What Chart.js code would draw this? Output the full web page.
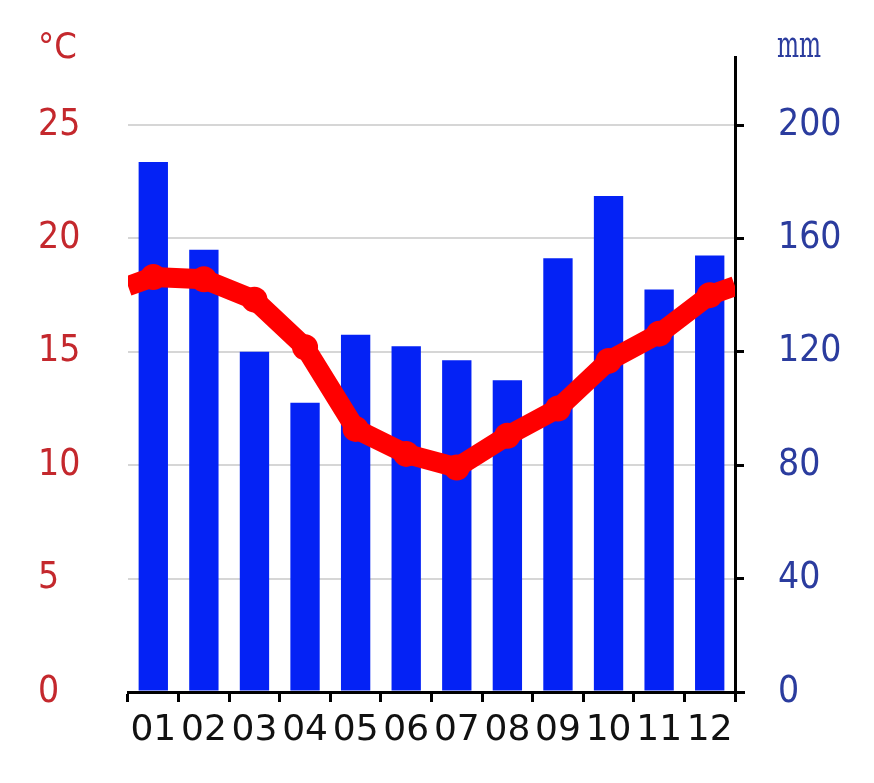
<!DOCTYPE html>
<html>
<head>
<meta charset="utf-8">
<script src="https://cdn.jsdelivr.net/npm/chart.js@4/dist/chart.umd.min.js"></script>
<style>
  html, body { margin: 0; padding: 0; background: #fff; }
  canvas { display: block; }
</style>
</head>
<body>
<canvas id="climate" width="874" height="783"></canvas>
<script>
// Monthly climate data
const months = ["01", "02", "03", "04", "05", "06", "07", "08", "09", "10", "11", "12"];
const precipitation = [187, 156, 120, 102, 126, 122, 117, 110, 153, 175, 142, 154];
const temperature = [18.3, 18.2, 17.3, 15.2, 11.6, 10.5, 9.9, 11.3, 12.5, 14.6, 15.8, 17.5];
const tempTicks = [0, 5, 10, 15, 20, 25];
const rainTicks = [0, 40, 80, 120, 160, 200];

const RED_TEXT = "#c4282d";
const BLUE_TEXT = "#2b3c9e";

// Draws the unit captions above each axis, plus the small stub of the base line
const unitLabels = {
  id: "unitLabels",
  afterDraw(chart) {
    const ctx = chart.ctx;
    const area = chart.chartArea;
    ctx.save();
    ctx.strokeStyle = "#000";
    ctx.lineWidth = 3;
    ctx.beginPath();
    ctx.moveTo(area.right, area.bottom + 0.5);
    ctx.lineTo(area.right + 10, area.bottom + 0.5);
    ctx.stroke();

    ctx.textBaseline = "alphabetic";
    ctx.textAlign = "left";
    ctx.fillStyle = RED_TEXT;
    ctx.font = "36px 'DejaVu Sans Condensed', 'DejaVu Sans'";
    ctx.fillText("°C", 38, 58);

    ctx.fillStyle = BLUE_TEXT;
    ctx.font = "38px 'DejaVu Serif Condensed', 'DejaVu Serif'";
    ctx.translate(777, 57);
    ctx.scale(0.68, 1);
    ctx.fillText("mm", 0, 0);
    ctx.restore();
  },
};

// The temperature curve runs on to both plot edges (Dec/Jan wrap)
const lineEdges = {
  id: "lineEdges",
  afterDatasetsDraw(chart) {
    const meta = chart.getDatasetMeta(1);
    if (!meta.data.length) return;
    const area = chart.chartArea;
    const y = chart.scales.y;
    const first = meta.data[0];
    const last = meta.data[meta.data.length - 1];
    const wrap = (temperature[0] + temperature[temperature.length - 1]) / 2;
    const yEdge = y.getPixelForValue(wrap);
    const ctx = chart.ctx;
    ctx.save();
    ctx.beginPath();
    ctx.rect(area.left, area.top, area.right - area.left, area.bottom - area.top);
    ctx.clip();
    ctx.strokeStyle = "#ff0000";
    ctx.lineWidth = 20;
    ctx.lineCap = "butt";
    ctx.beginPath();
    ctx.moveTo(area.left, yEdge);
    ctx.lineTo(first.x, first.y);
    ctx.moveTo(last.x, last.y);
    ctx.lineTo(area.right, yEdge);
    ctx.stroke();
    ctx.restore();
  },
};

const ctx = document.getElementById("climate").getContext("2d");

new Chart(ctx, {
  type: "bar",
  data: {
    labels: months,
    datasets: [
      {
        type: "bar",
        label: "Precipitation",
        data: precipitation,
        yAxisID: "y2",
        backgroundColor: "#0422f5",
        borderWidth: 0,
        barPercentage: 0.58,
        categoryPercentage: 1.0,
        order: 2,
      },
      {
        type: "line",
        label: "Temperature",
        data: temperature,
        yAxisID: "y",
        borderColor: "#ff0000",
        backgroundColor: "#ff0000",
        borderWidth: 20,
        borderJoinStyle: "round",
        pointRadius: 13,
        pointBorderWidth: 0,
        pointBackgroundColor: "#ff0000",
        tension: 0,
        order: 1,
      },
    ],
  },
  options: {
    responsive: false,
    animation: false,
    devicePixelRatio: 1,
    layout: {
      padding: { top: 57, left: 38, right: 0, bottom: 0 },
    },
    plugins: {
      legend: { display: false },
      tooltip: { enabled: false },
      title: { display: false },
    },
    scales: {
      x: {
        offset: true,
        afterFit: function (scale) {
          scale.height = 91;
        },
        grid: {
          offset: true,
          drawOnChartArea: false,
          drawTicks: true,
          tickLength: 10,
          color: "#000",
          lineWidth: 3,
        },
        border: { display: true, color: "#000", width: 3 },
        ticks: {
          color: "#111",
          padding: 7,
          maxRotation: 0,
          autoSkip: false,
          font: { family: "'DejaVu Sans'", size: 36 },
        },
      },
      y: {
        position: "left",
        min: 0,
        max: 28,
        afterFit: function (scale) {
          scale.width = 90;
        },
        afterBuildTicks: function (scale) {
          scale.ticks = tempTicks.map((v) => ({ value: v }));
        },
        grid: {
          drawTicks: false,
          lineWidth: 2,
          color: function (c) {
            return c.tick && c.tick.value === 0 ? "rgba(0,0,0,0)" : "#d6d6d6";
          },
        },
        border: { display: false },
        ticks: {
          color: RED_TEXT,
          crossAlign: "far",
          padding: 0,
          font: { family: "'DejaVu Sans Condensed', 'DejaVu Sans'", size: 37 },
        },
      },
      y2: {
        position: "right",
        min: 0,
        max: 224,
        afterFit: function (scale) {
          scale.width = 139;
        },
        afterBuildTicks: function (scale) {
          scale.ticks = rainTicks.map((v) => ({ value: v }));
        },
        grid: {
          drawOnChartArea: false,
          drawTicks: true,
          tickLength: 9,
          color: "#000",
          lineWidth: 3,
        },
        border: { display: true, color: "#000", width: 3 },
        ticks: {
          color: BLUE_TEXT,
          padding: 34,
          font: { family: "'DejaVu Sans Condensed', 'DejaVu Sans'", size: 37 },
        },
      },
    },
  },
  plugins: [unitLabels, lineEdges],
});
</script>
</body>
</html>
